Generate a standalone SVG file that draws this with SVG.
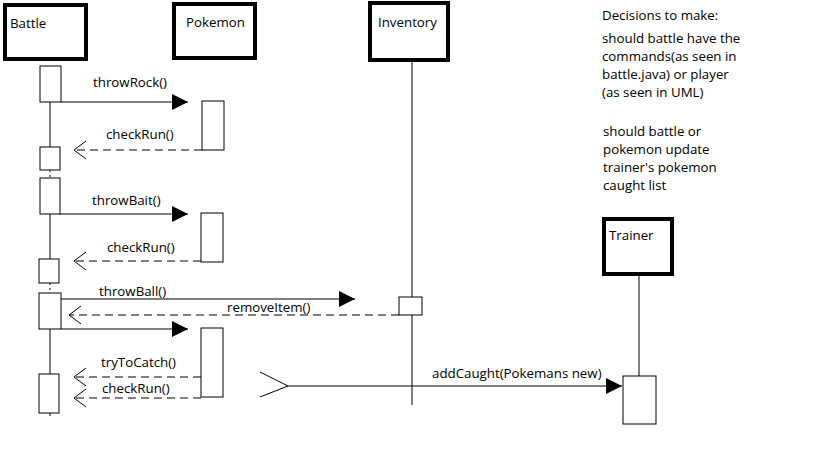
<svg xmlns="http://www.w3.org/2000/svg" width="819" height="460" viewBox="0 0 819 460">
<style>
text{font-family:"Open Sans","Noto Sans","Liberation Sans",sans-serif;font-size:13.3px;fill:#000}
.hdr{fill:#fff;stroke:#000;stroke-width:4}
.act{fill:#fff;stroke:#000;stroke-width:1}
.life{stroke:#000;stroke-width:1;fill:none}
.msg{stroke:#000;stroke-width:1;fill:none}
.ret{stroke:#000;stroke-width:1;fill:none;stroke-dasharray:8 5}
</style>
<defs>
<marker id="fill" markerUnits="userSpaceOnUse" markerWidth="18" markerHeight="18" refX="16" refY="8" orient="auto"><polygon points="0,0 16,8 0,16" fill="#000"/></marker>
<marker id="open" markerUnits="userSpaceOnUse" markerWidth="16" markerHeight="22" refX="13" refY="10" orient="auto"><polyline points="1,1 13,10 1,19" fill="none" stroke="#000" stroke-width="1"/></marker>
</defs>
<rect width="819" height="460" fill="#fff"/>
<g id="battle">
<rect class="hdr" x="5" y="5" width="81" height="54"/>
<text x="10" y="28">Battle</text>
<line class="life" x1="50" y1="102" x2="50" y2="147"/>
<line class="life" x1="50" y1="170" x2="50" y2="178" stroke-dasharray="2 3"/>
<line class="life" x1="50" y1="214" x2="50" y2="259" stroke-width="2"/>
<line class="life" x1="50" y1="283" x2="50" y2="293" stroke-dasharray="2 3"/>
<line class="life" x1="50" y1="329" x2="50" y2="374" stroke-width="2"/>
<line class="life" x1="50" y1="413" x2="50" y2="416"/>
<rect class="act" x="40" y="66" width="21" height="36"/>
<rect class="act" x="40" y="147" width="20" height="23"/>
<rect class="act" x="40" y="178" width="20" height="36"/>
<rect class="act" x="39" y="259" width="20" height="24"/>
<rect class="act" x="39" y="293" width="22" height="36"/>
<rect class="act" x="39" y="374" width="20" height="39"/>
</g>
<g id="pokemon">
<rect class="hdr" x="174" y="4" width="81" height="54"/>
<text x="186" y="27">Pokemon</text>
<rect class="act" x="202" y="101" width="22" height="49"/>
<rect class="act" x="201" y="213" width="22" height="49"/>
<rect class="act" x="201" y="328" width="22" height="69"/>
</g>
<g id="inventory">
<rect class="hdr" x="370" y="3" width="78" height="57"/>
<text x="378" y="27">Inventory</text>
<line class="life" x1="412" y1="61" x2="412" y2="405"/>
<rect class="act" x="399" y="297" width="23" height="18"/>
</g>
<g id="trainer">
<rect class="hdr" x="604" y="219" width="68" height="55"/>
<text x="609" y="240">Trainer</text>
<line class="life" x1="639" y1="276" x2="639" y2="376"/>
<rect class="act" x="623" y="376" width="33" height="48"/>
</g>
<g id="connectors">
<line class="msg" x1="61" y1="102" x2="188" y2="102" marker-end="url(#fill)"/>
<line class="ret" x1="202" y1="150" x2="74" y2="150" marker-end="url(#open)"/>
<line class="msg" x1="60" y1="214" x2="188" y2="214" marker-end="url(#fill)"/>
<line class="ret" x1="201" y1="261" x2="74" y2="261" marker-end="url(#open)"/>
<line class="msg" x1="61" y1="299" x2="355" y2="299" marker-end="url(#fill)"/>
<line class="ret" x1="399" y1="315" x2="69" y2="315" marker-end="url(#open)"/>
<line class="msg" x1="61" y1="329" x2="188" y2="329" marker-end="url(#fill)"/>
<line class="ret" x1="201" y1="377" x2="74" y2="377" marker-end="url(#open)"/>
<line class="ret" x1="201" y1="398" x2="74" y2="398" marker-end="url(#open)"/>
<polyline class="msg" points="260,372 288,386 260,397"/>
<line class="msg" x1="288" y1="386" x2="622" y2="386" marker-end="url(#fill)"/>
<text x="93" y="87">throwRock()</text>
<text x="106" y="139">checkRun()</text>
<text x="92" y="205">throwBait()</text>
<text x="107" y="252">checkRun()</text>
<text x="99" y="296">throwBall()</text>
<text x="227" y="312">removeItem()</text>
<text x="101" y="367">tryToCatch()</text>
<text x="102" y="393">checkRun()</text>
<text x="432" y="378">addCaught(Pokemans new)</text>
</g>
<g id="notes">
<text x="602" y="20">Decisions to make:</text>
<text x="602" y="43">should battle have the</text>
<text x="602" y="61">commands(as seen in</text>
<text x="602" y="79">battle.java) or player</text>
<text x="602" y="97">(as seen in UML)</text>
<text x="603" y="136">should battle or</text>
<text x="603" y="154">pokemon update</text>
<text x="603" y="172">trainer's pokemon</text>
<text x="603" y="190">caught list</text>
</g>
</svg>
